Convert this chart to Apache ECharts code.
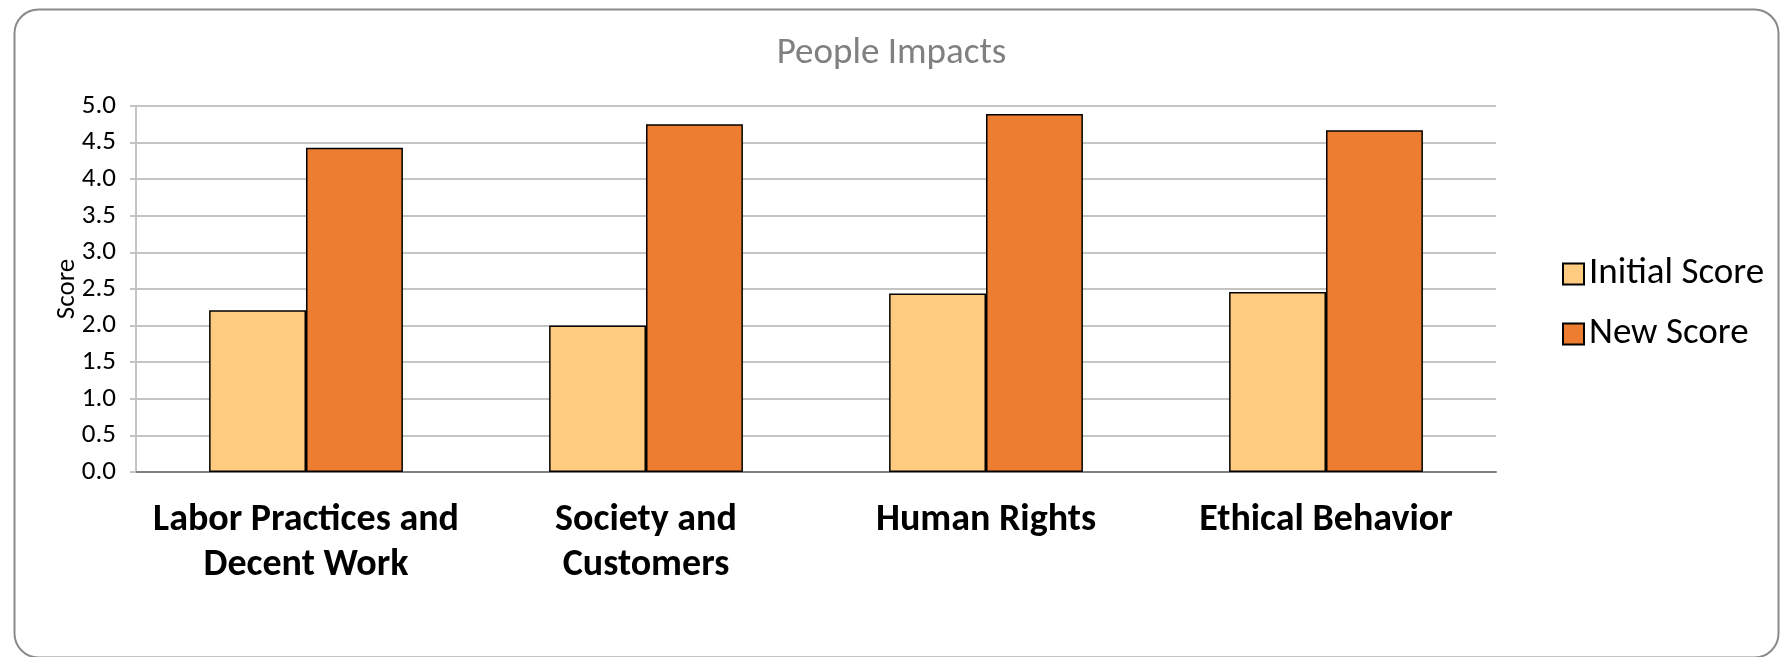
<!DOCTYPE html>
<html>
<head>
<meta charset="utf-8">
<script src="https://cdn.jsdelivr.net/npm/echarts@6/dist/echarts.min.js"></script>
<style>
  html, body { margin: 0; padding: 0; background: #fff; }
  #main { width: 1783px; height: 657px; }
</style>
</head>
<body>
<div id="main"></div>
<script>
  // data
  const categories = ['Labor Practices and\nDecent Work', 'Society and\nCustomers', 'Human Rights', 'Ethical Behavior']
  const initialScore = [2.21, 2.0, 2.44, 2.46]
  const newScore = [4.43, 4.75, 4.89, 4.67]
  const seriesNames = ['Initial Score', 'New Score']

  const font = 'Carlito, Lato, sans-serif'
  const chart = echarts.init(document.getElementById('main'))

  const option = {
    backgroundColor: '#fff',
    animation: false,
    // rounded frame round the whole chart
    graphic: [
      {
        type: 'rect',
        left: 12,
        top: 7,
        shape: { width: 1764, height: 648, r: 24 },
        style: { fill: 'none', stroke: '#8a8a8a', lineWidth: 2 },
        silent: true,
      },
    ],
    title: {
      text: 'People Impacts',
      left: 'center',
      top: 30,
      textStyle: { color: '#808080', fontSize: 37, fontWeight: 'normal', fontFamily: font },
    },
    legend: {
      orient: 'vertical',
      left: 1557,
      top: 249,
      itemWidth: 21,
      itemHeight: 21,
      itemGap: 20,
      itemTextGap: 9,
      icon: 'rect',
      data: seriesNames,
      textStyle: { color: '#000', fontSize: 37, fontFamily: font, lineHeight: 40 },
    },
    grid: { left: 136, right: 287, top: 106, bottom: 185, containLabel: false },
    xAxis: {
      type: 'category',
      data: categories,
      axisLine: { lineStyle: { color: '#808080', width: 2 } },
      axisTick: { show: false },
      axisLabel: {
        color: '#000',
        fontSize: 38,
        fontWeight: 'bold',
        fontFamily: font,
        lineHeight: 45,
        margin: 26,
        interval: 0,
      },
    },
    yAxis: {
      type: 'value',
      min: 0,
      max: 5,
      interval: 0.5,
      name: 'Score',
      nameLocation: 'middle',
      nameRotate: 90,
      nameGap: 55,
      nameMoveOverlap: false,
      nameTextStyle: { color: '#000', fontSize: 27, fontFamily: font },
      axisLine: { show: true, lineStyle: { color: '#c4c4c4', width: 2 } },
      axisTick: { show: true, length: 6, lineStyle: { color: '#c4c4c4', width: 2 } },
      axisLabel: {
        color: '#000',
        fontSize: 27,
        fontFamily: font,
        margin: 20,
        formatter: (v) => v.toFixed(1),
      },
      splitLine: { lineStyle: { color: '#c4c4c4', width: 2 } },
    },
    series: [
      {
        name: seriesNames[0],
        type: 'bar',
        barWidth: '28.5%',
        barGap: '0%',
        itemStyle: { color: '#FECB80', borderColor: '#000', borderWidth: 1.5 },
        data: initialScore,
      },
      {
        name: seriesNames[1],
        type: 'bar',
        barWidth: '28.5%',
        barGap: '0%',
        itemStyle: { color: '#ED7D31', borderColor: '#000', borderWidth: 1.5 },
        data: newScore,
      },
    ],
  }
  chart.setOption(option)
</script>
</body>
</html>
